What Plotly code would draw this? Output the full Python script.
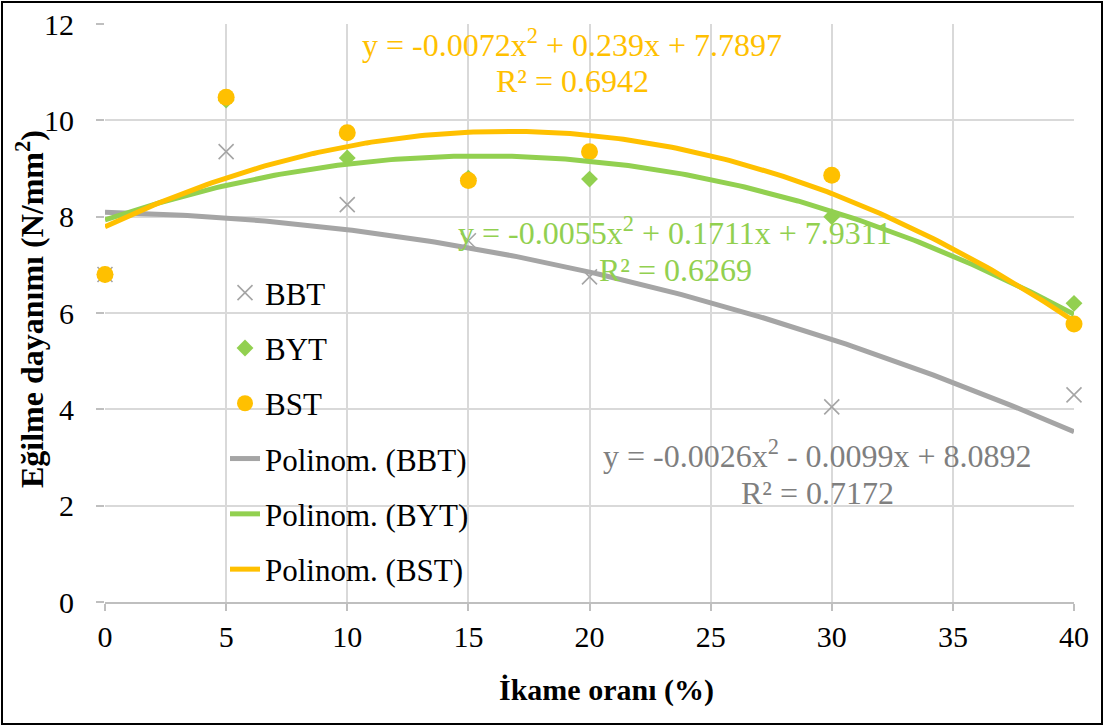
import numpy as np
import plotly.graph_objects as go

# ---- data ----
x_vals = [0, 5, 10, 15, 20, 30, 40]
bbt = [6.8, 9.35, 8.25, 7.5, 6.75, 4.05, 4.3]
byt = [6.8, 10.42, 9.22, 8.8, 8.78, 8.0, 6.2]
bst = [6.8, 10.48, 9.74, 8.75, 9.35, 8.86, 5.77]

# polynomial trendline coefficients (as printed on chart)
coef_bbt = [-0.0026, -0.0099, 8.0892]
coef_byt = [-0.0055, 0.1711, 7.9311]
coef_bst = [-0.0072, 0.239, 7.7897]

eq_bbt = ["y = -0.0026x<sup>2</sup> - 0.0099x + 8.0892", "R² = 0.7172"]
eq_byt = ["y = -0.0055x<sup>2</sup> + 0.1711x + 7.9311", "R² = 0.6269"]
eq_bst = ["y = -0.0072x<sup>2</sup> + 0.239x + 7.7897", "R² = 0.6942"]

x_ticks = [0, 5, 10, 15, 20, 25, 30, 35, 40]
y_ticks = [0, 2, 4, 6, 8, 10, 12]

GRAY = "#A5A5A5"
GREEN = "#92D050"
ORANGE = "#FFC000"
FONT = "Liberation Serif"

# plot area geometry in pixels (for paper-coord conversions)
W, H = 1105, 726
L, R, T, B = 105, 31, 24, 124
PW, PH = W - L - R, H - T - B


def px_x(px):
    return (px - L) / PW


def px_y(py):
    return (H - B - py) / PH


def dx(px):
    return (px - L) / PW * 40


def dy(py):
    return (H - B - py) / PH * 12


xfit = np.linspace(min(x_vals), max(x_vals), 201)

fig = go.Figure()
fig.add_trace(go.Scatter(x=x_vals, y=bbt, mode="markers", name="BBT", legendgroup="a",
                         cliponaxis=False,
                         marker=dict(symbol="x-thin-open", size=15, color=GRAY,
                                     line=dict(color=GRAY, width=1.6))))
fig.add_trace(go.Scatter(x=x_vals, y=byt, mode="markers", name="BYT", legendgroup="b",
                         cliponaxis=False,
                         marker=dict(symbol="diamond", size=13, color=GREEN)))
fig.add_trace(go.Scatter(x=x_vals, y=bst, mode="markers", name="BST", legendgroup="c",
                         cliponaxis=False,
                         marker=dict(symbol="circle", size=17, color=ORANGE)))
for name, coef, col, grp in [("Polinom. (BBT)", coef_bbt, GRAY, "d"),
                             ("Polinom. (BYT)", coef_byt, GREEN, "e"),
                             ("Polinom. (BST)", coef_bst, ORANGE, "f")]:
    fig.add_trace(go.Scatter(x=xfit, y=np.polyval(coef, xfit), mode="lines", name=name,
                             legendgroup=grp, line=dict(color=col, width=5)))

annotations = []


def eq_ann(lines, xc, y1, y2, color):
    for txt, yy in zip(lines, (y1, y2)):
        annotations.append(dict(x=xc, y=yy, xref="x", yref="y", text=txt, showarrow=False,
                                xanchor="center", yanchor="middle",
                                font=dict(family=FONT, size=32, color=color)))


eq_ann(eq_bst, dx(572), dy(43), dy(81), ORANGE)
eq_ann(eq_byt, dx(675), dy(231), dy(270), GREEN)
eq_ann(eq_bbt, dx(817), dy(454), dy(493), "#7F7F7F")

annotations.append(dict(x=px_x(30), y=px_y(309), xref="paper", yref="paper",
                        text="<b>Eğilme dayanımı (N/mm<sup>2</sup>)</b>", textangle=-90,
                        showarrow=False, xanchor="center", yanchor="middle",
                        font=dict(family=FONT, size=32, color="black")))
annotations.append(dict(x=px_x(606), y=px_y(690), xref="paper", yref="paper",
                        text="<b>İkame oranı (%)</b>", showarrow=False,
                        xanchor="center", yanchor="middle",
                        font=dict(family=FONT, size=30, color="black")))

fig.update_layout(
    width=W, height=H,
    margin=dict(l=L, r=R, t=T, b=B, autoexpand=False),
    paper_bgcolor="white", plot_bgcolor="white",
    font=dict(family=FONT, size=30, color="black"),
    showlegend=True,
    legend=dict(x=px_x(225), y=px_y(266), xanchor="left", yanchor="top",
                bgcolor="rgba(0,0,0,0)", traceorder="grouped", tracegroupgap=12,
                font=dict(family=FONT, size=31, color="black")),
    annotations=annotations,
    shapes=[dict(type="rect", xref="paper", yref="paper",
                 x0=px_x(2), x1=px_x(1102), y0=px_y(724), y1=px_y(2),
                 line=dict(color="black", width=2), fillcolor="rgba(0,0,0,0)", layer="above")],
)
fig.update_xaxes(range=[0, 40], tickvals=x_ticks, ticktext=[str(v) for v in x_ticks],
                 showgrid=True, gridcolor="#D9D9D9", gridwidth=2,
                 showline=True, linecolor="#BFBFBF", linewidth=2,
                 ticks="outside", ticklen=7, tickcolor="#BFBFBF", tickwidth=2,
                 zeroline=False, ticklabelstandoff=0,
                 tickfont=dict(family=FONT, size=30, color="black"))
fig.update_yaxes(range=[0, 12], tickvals=y_ticks, ticktext=[str(v) for v in y_ticks],
                 showgrid=True, gridcolor="#D9D9D9", gridwidth=2,
                 showline=False, zeroline=False,
                 ticks="outside", ticklen=8, tickcolor="#BFBFBF", tickwidth=2,
                 ticklabelstandoff=16,
                 tickfont=dict(family=FONT, size=30, color="black"))

fig.write_html("out.html", config={"displayModeBar": False},
               post_script="document.body.style.margin='0';document.body.style.padding='0';")
